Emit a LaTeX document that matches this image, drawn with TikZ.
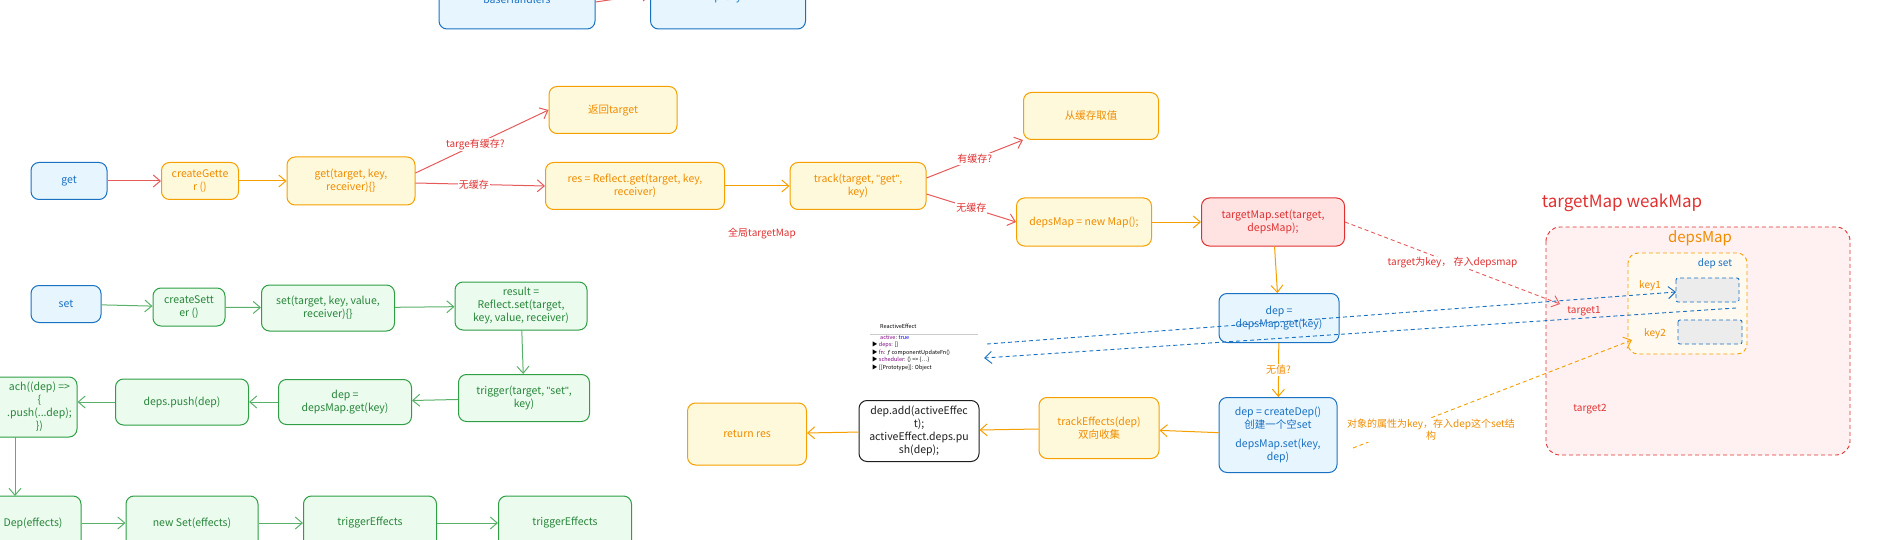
\documentclass[tikz,border=0pt]{standalone}
\usepackage{fontspec}
\setmainfont{Noto Sans CJK SC}
\newfontfamily\lat{Liberation Sans}
\newcommand{\qq}{{\lat"}}
\usetikzlibrary{arrows.meta}
\definecolor{bS}{HTML}{1971C2}\definecolor{bF}{HTML}{E7F5FF}
\definecolor{oS}{HTML}{F59F00}\definecolor{oT}{HTML}{F08C00}\definecolor{oF}{HTML}{FFF9DB}
\definecolor{gS}{HTML}{2F9E44}\definecolor{gF}{HTML}{EBFBEE}
\definecolor{rS}{HTML}{E03131}\definecolor{rF}{HTML}{FFE3E3}
\definecolor{kS}{HTML}{1E1E1E}
\begin{document}
\begin{tikzpicture}[x=1pt,y=-1pt,
  box/.style={draw,rounded corners=8pt,line width=1pt,align=center,inner sep=2pt,font=\fontsize{10.5}{13}\selectfont},
  bb/.style={box,draw=bS,fill=bF,text=bS},
  ob/.style={box,draw=oS,fill=oF,text=oT},
  gb/.style={box,draw=gS,fill=gF,text=gS!85!black},
  rb/.style={box,draw=rS,fill=rF,text=rS},
  kb/.style={box,draw=kS,fill=white,text=kS},
  ar/.style={line width=1pt,-{Straight Barb[length=7pt,width=12pt]}},
  ra/.style={ar,draw=rS!80},
  oa/.style={ar,draw=oS},
  ga/.style={ar,draw=gS!80},
  lab/.style={font=\fontsize{10}{12}\selectfont,fill=white,inner sep=1pt},
  dsh/.style={line width=0.9pt,dash pattern=on 4pt off 3pt}]
\useasboundingbox (0,0) rectangle (1892,540);
% top cut boxes
\node[bb,minimum width=156,minimum height=68] (bh) at (517,-5) {};
\node[bb,minimum width=155,minimum height=68] (px) at (728,-5) {};
\node[text=bS,font=\fontsize{10.5}{13}\selectfont] (bht) at (517,-1) {baseHandlers};
\node[text=bS,font=\fontsize{10.5}{13}\selectfont] (pxt) at (728,-1) {proxy};
\draw[ra] (bh.east|-0,2) -- (px.west|-0,-6);
% get row
\node[bb,minimum width=76,minimum height=37] (getN) at (69,181) {get};
\node[ob,minimum width=77,minimum height=37] (cg) at (200,181) {createGette\\r ()};
\node[ob,minimum width=128,minimum height=48] (getf) at (351,181) {get(target, key,\\receiver)\{\}};
\node[ob,minimum width=128,minimum height=47] (ret) at (613,110) {返回target};
\node[ob,minimum width=179,minimum height=47] (res) at (635,186) {res = Reflect.get(target, key,\\receiver)};
\node[ob,minimum width=136,minimum height=47] (track) at (858,186) {track(target, \qq get\qq,\\key)};
\node[ob,minimum width=135,minimum height=47] (cache) at (1091,116) {从缓存取值};
\node[ob,minimum width=135,minimum height=48] (dm) at (1084,222) {depsMap = new Map();};
\node[rb,minimum width=143,minimum height=48] (tms) at (1273,222) {targetMap.set(target,\\depsMap);};
\node[bb,minimum width=120,minimum height=49] (depg) at (1279,318) {dep =\\depsMap.get(key)};
\node[bb,minimum width=118,minimum height=75] (cdep) at (1278,435) {dep = createDep()\\创建一个空set\\[6pt]depsMap.set(key,\\dep)};
\node[ob,minimum width=120,minimum height=61] (te) at (1099,428) {trackEffects(dep)\\双向收集};
\node[kb,minimum width=120,minimum height=61] (da) at (919,431) {dep.add(activeEffec\\t);\\activeEffect.deps.pu\\sh(dep);};
\node[ob,minimum width=119,minimum height=62] (rr) at (747,434) {return res};
\node[font=\fontsize{10}{12}\selectfont,text=rS] (gt) at (762,233) {全局targetMap};
\draw[ra] (getN) -- (cg);
\draw[oa] (cg) -- (getf);
\draw[ra] (getf.east) ++(0,-8) coordinate (g1) (g1) -- node[lab,text=rS,pos=0.45]{targe有缓存?} (ret.west);
\draw[ra] (getf.east) ++(0,2) coordinate (g2) (g2) -- node[lab,text=rS,pos=0.45]{无缓存} (res.west);
\draw[oa] (res) -- (track);
\draw[ra] (track.east) ++(0,-8) coordinate (t1) (t1) -- node[lab,text=rS]{有缓存?} (cache.south west);
\draw[ra] (track.east) ++(0,8) coordinate (t2) (t2) -- node[lab,text=rS]{无缓存} (dm.west);
\draw[oa] (dm) -- (tms);
\draw[oa] (tms) -- (depg);
\draw[oa] (depg) -- node[lab,text=oT]{无值?} (cdep);
\draw[oa] (cdep) -- (te);
\draw[oa] (te) -- (da);
\draw[oa] (da) -- (rr);
% screenshot
\node[anchor=north west,inner sep=0pt,align=left,font=\fontsize{5.5}{7.5}\selectfont] (shot) at (872,324)
 {\hspace*{8pt}ReactiveEffect\\[3pt]
  \hspace*{8pt}\textcolor{violet}{active}: \textcolor{blue}{true}\\
  ▶ \textcolor{violet}{deps}: []\\
  ▶ \textcolor{violet}{fn}: \textit{ƒ componentUpdateFn()}\\
  ▶ \textcolor{violet}{scheduler}: () => \{…\}\\
  ▶ [[Prototype]]: Object};
\draw[gray!40] (870,334) -- (978,334);
% map region
\node[text=rS,font=\fontsize{17}{20}\selectfont] (tmw) at (1622,203) {targetMap weakMap};
\draw[rS,dsh,fill=rF!50,rounded corners=14pt] (1546,227) rectangle (1850,455);
\node[text=oT,font=\fontsize{15}{18}\selectfont] (dml) at (1700,238) {depsMap};
\draw[oS,dsh,fill=oF!80!orange!20,rounded corners=10pt] (1628,253) rectangle (1747,354);
\node[text=bS,font=\fontsize{10}{12}\selectfont] (dset) at (1715,264) {dep set};
\node[text=oT,font=\fontsize{10}{12}\selectfont] (k1) at (1650,286) {key1};
\node[text=oT,font=\fontsize{10}{12}\selectfont] (k2) at (1655,334) {key2};
\draw[bS,dsh,fill=gray!15,rounded corners=2pt] (1676,278) rectangle (1739,302);
\draw[bS,dsh,fill=gray!15,rounded corners=2pt] (1678,320) rectangle (1742,344);
\coordinate (k1b) at (1676,292);
\coordinate (k2b) at (1632,340);
\node[text=rS,font=\fontsize{10}{12}\selectfont] (tg1) at (1584,311) {target1};
\node[text=rS,font=\fontsize{10}{12}\selectfont] (tg2) at (1590,409) {target2};
\coordinate (tgin) at (1560,304);
\draw[rS!80,dsh,-{Straight Barb[length=7pt,width=12pt]}] (tms.east) -- node[lab,text=rS,pos=0.5]{target为key， 存入depsmap} (tgin);
\coordinate (s1) at (987,344);
\coordinate (s2) at (984,358);
\coordinate (k1c) at (1736,308);
\draw[bS,dsh,-{Straight Barb[length=7pt,width=12pt]}] (s1) -- (k1b);
\draw[bS,dsh,-{Straight Barb[length=7pt,width=12pt]}] (k1c) -- (s2);
\coordinate (o1) at (1353,448);
\draw[oS,dsh,-{Straight Barb[length=7pt,width=12pt]}] (o1) -- (k2b);
\node[lab,text=oT,align=center] at (1431,430) {对象的属性为key，存入dep这个set结\\构};
% set row
\node[bb,minimum width=70,minimum height=37] (setN) at (66,304) {set};
\node[gb,minimum width=72,minimum height=38] (cs) at (189,307) {createSett\\er ()};
\node[gb,minimum width=133,minimum height=46] (sf) at (328,308) {set(target, key, value,\\receiver)\{\}};
\node[gb,minimum width=132,minimum height=48] (rs) at (521,306) {result =\\Reflect.set(target,\\key, value, receiver)};
\node[gb,minimum width=131,minimum height=47] (tr) at (524,398) {trigger(target, \qq set\qq,\\key)};
\node[gb,minimum width=133,minimum height=45] (dg) at (345,402) {dep =\\depsMap.get(key)};
\node[gb,minimum width=133,minimum height=46] (dp) at (182,402) {deps.push(dep)};
\node[gb,minimum width=150,minimum height=60] (fe) at (2,407) {\hspace*{75pt}\begin{tabular}{@{}c@{}}ach((dep) =>\\\{\\.push(...dep);\\\})\end{tabular}};
\node[gb,minimum width=112,minimum height=54] (b1) at (25,523) {\hspace*{16pt}Dep(effects)};
\node[gb,minimum width=132,minimum height=54] (b2) at (192,523) {new Set(effects)};
\node[gb,minimum width=133,minimum height=54] (b3) at (370,523) {triggerEffects};
\node[gb,minimum width=133,minimum height=54] (b4) at (565,523) {triggerEffects};
\draw[ga] (setN) -- (cs);
\draw[ga] (cs) -- (sf);
\draw[ga] (sf) -- (rs);
\draw[ga] (rs) -- (tr);
\draw[ga] (tr) -- (dg);
\draw[ga] (dg) -- (dp);
\draw[ga] (dp) -- (fe.east|-dp);
\draw[ga] (15,437) -- (15,496);
\draw[ga] (b1) -- (b2);
\draw[ga] (b2) -- (b3);
\draw[ga] (b3) -- (b4);
\end{tikzpicture}
\end{document}
